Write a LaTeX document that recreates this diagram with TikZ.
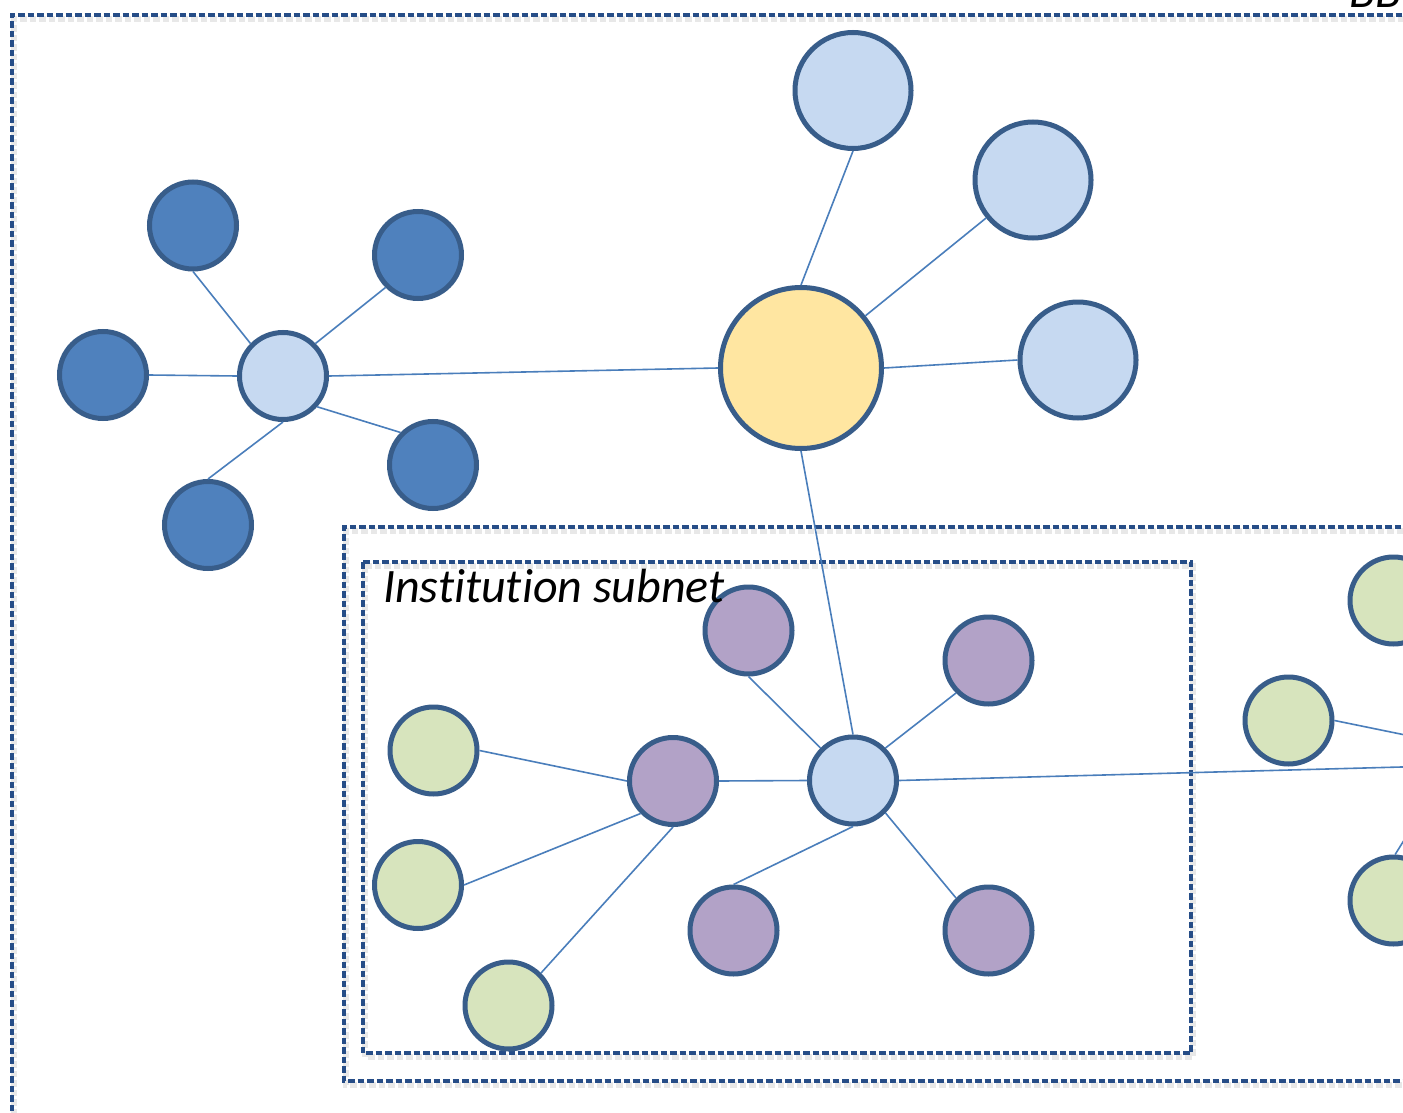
\documentclass[tikz,border=0pt]{standalone}
\usepackage{fontspec}
\setmainfont{Carlito}[Ligatures=NoCommon]
\definecolor{rim}{HTML}{385D8A}
\definecolor{linkblue}{HTML}{4A7EBB}
\definecolor{boxblue}{HTML}{264D87}
\definecolor{darkfill}{HTML}{4F81BD}
\definecolor{lightfill}{HTML}{C6D9F1}
\definecolor{sunfill}{HTML}{FFE6A1}
\definecolor{lilacfill}{HTML}{B2A2C7}
\definecolor{sagefill}{HTML}{D7E4BD}
\tikzset{
  dot/.style={circle, draw=rim, line width=5pt, inner sep=0pt, minimum size=87pt},
  bigdot/.style={dot, minimum size=116pt},
  hugedot/.style={dot, minimum size=161pt},
  link/.style={draw=linkblue, line width=1.6pt},
  frame/.style={draw=boxblue, line width=3.2pt, dash pattern=on 6.5pt off 3pt},
  frameshadow/.style={draw=black, opacity=0.09, line width=6pt, dash pattern=on 6.5pt off 3pt},
  caption/.style={font=\itshape\fontsize{48}{57}\selectfont, inner sep=0pt, anchor=base west}
}
\begin{document}
\begin{tikzpicture}[x=1pt, y=-1pt]
\useasboundingbox (0,0) rectangle (1403,1113);
\fill[white] (0,0) rectangle (1403,1113);

% dashed frames with soft shadows
\begin{scope}[shift={(2,4)}]
  \draw[frameshadow] (12,1130) -- (12,15) -- (1420,15);
  \draw[frameshadow] (1420,527) -- (344,527) -- (344,1081) -- (1420,1081);
  \draw[frameshadow] (363,562) rectangle (1191,1053);
\end{scope}
\draw[frame] (12,1130) -- (12,15) -- (1420,15);
\draw[frame] (1420,527) -- (344,527) -- (344,1081) -- (1420,1081);
\draw[frame] (363,562) rectangle (1191,1053);

% backbone cluster
\node[hugedot, fill=sunfill] (core) at (801,368) {};
\node[bigdot, fill=lightfill] (t1) at (853,90.5) {};
\node[bigdot, fill=lightfill] (t2) at (1033,180) {};
\node[bigdot, fill=lightfill] (t3) at (1078,360) {};

% left cluster
\node[dot, fill=lightfill] (hl) at (283,376) {};
\node[dot, fill=darkfill] (d1) at (193,225.5) {};
\node[dot, fill=darkfill] (d2) at (418,255) {};
\node[dot, fill=darkfill] (d3) at (103,375) {};
\node[dot, fill=darkfill] (d4) at (433,465) {};
\node[dot, fill=darkfill] (d5) at (208,525) {};

% institution subnet
\node[dot, fill=lightfill] (hb) at (853,780.5) {};
\node[dot, fill=lilacfill] (p1) at (748.5,630.5) {};
\node[dot, fill=lilacfill] (p2) at (988.5,660.5) {};
\node[dot, fill=lilacfill] (p3) at (673,781) {};
\node[dot, fill=lilacfill] (p4) at (733.5,930.5) {};
\node[dot, fill=lilacfill] (p5) at (988.5,930.5) {};
\node[dot, fill=sagefill] (g1) at (433.5,750.5) {};
\node[dot, fill=sagefill] (g2) at (418,885) {};
\node[dot, fill=sagefill] (g3) at (508.5,1005.5) {};

% neighbouring subnet, partly outside the page
\node[dot, fill=sagefill] (r1) at (1288.5,720.5) {};
\node[dot, fill=sagefill] (r2) at (1393.5,600.5) {};
\node[dot, fill=sagefill] (r3) at (1393.5,900.5) {};
\coordinate (e1) at (1420,738);
\coordinate (e2) at (1420,766.5);
\coordinate (e3) at (1416,821);

% connectors
\path[link]
  (core.north) -- (t1.south)
  (core) -- (t2)
  (core.east) -- (t3.west)
  (core.west) -- (hl.east)
  (core.south) -- (hb.north)
  (hl.135) -- (d1.south)
  (hl.45) -- (d2.225)
  (hl.west) -- (d3.east)
  (hl.-42) -- (d4.135)
  (hl.south) -- (d5.north)
  (hb.135) -- (p1.south)
  (hb.45) -- (p2.225)
  (hb.west) -- (p3.east)
  (hb.south) -- (p4.north)
  (hb.-45) -- (p5.135)
  (hb.east) -- (e2)
  (p3.west) -- (g1.east)
  (p3.225) -- (g2.east)
  (p3.south) -- (g3.45)
  (r1.east) -- (e1)
  (r3.88) -- (e3);

% labels
\node[caption] (lab) at (383,602) {Institution subnet};
\node[caption] (bb) at (1349,7.5) {BB};
\end{tikzpicture}
\end{document}
